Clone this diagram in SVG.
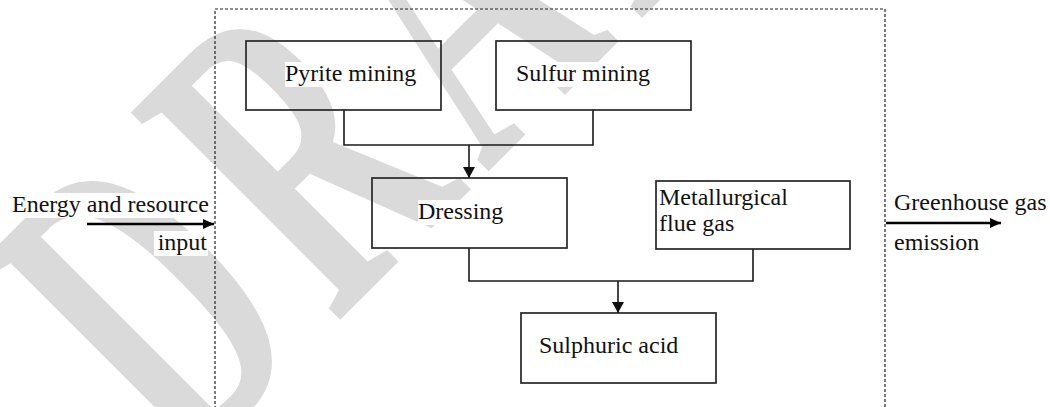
<svg xmlns="http://www.w3.org/2000/svg" width="1050" height="407" viewBox="0 0 1050 407">
  <defs>
    <marker id="head" markerUnits="userSpaceOnUse" markerWidth="12" markerHeight="12" refX="11" refY="6" orient="auto">
      <path d="M0,0 L11,6 L0,12 Z" fill="#111"/>
    </marker>
    <marker id="headIO" markerUnits="userSpaceOnUse" markerWidth="12" markerHeight="10" refX="11" refY="5" orient="auto">
      <path d="M0,0 L11,5 L0,10 Z" fill="#000"/>
    </marker>
  </defs>
  <style>
    .box { fill: none; stroke: #262626; stroke-width: 1.7; }
    .lbl { font-family: 'Liberation Serif', 'Times New Roman', serif; font-size: 24px; fill: #111; }
    .bg { fill: #ffffff; }
    .conn { fill: none; stroke: #1a1a1a; stroke-width: 1.6; }
    .io { fill: none; stroke: #000; stroke-width: 2.6; }
    .frame { fill: none; stroke: #222; stroke-width: 1.2; stroke-dasharray: 3 2; }
    .mark { font-family: 'Liberation Serif', 'Times New Roman', serif; font-size: 450px; font-weight: bold; letter-spacing: 43px; fill: #dadada; }
  </style>

  <rect width="1050" height="407" fill="#ffffff"/>

  <!-- background watermark -->
  <g id="watermark">
    <text class="mark" transform="translate(185,475) rotate(-45) scale(0.58,1)">DRAFT</text>
  </g>

  <!-- system boundary -->
  <rect class="frame" x="215" y="9" width="670" height="430"/>

  <g id="connectors">
    <path class="conn" d="M344,110 V145 H593 V110"/>
    <path class="conn" d="M469,145 V178" marker-end="url(#head)"/>
    <path class="conn" d="M469,248 V281 H753 V249"/>
    <path class="conn" d="M618,281 V313" marker-end="url(#head)"/>
    <path class="io" d="M87,224 H214" marker-end="url(#headIO)"/>
    <path class="io" d="M886,223 H1001" marker-end="url(#headIO)"/>
  </g>

  <g id="pyrite">
    <rect class="box" x="246" y="41" width="195" height="69"/>
    <rect class="bg" x="285" y="62" width="131" height="25"/>
    <text class="lbl" x="285" y="81">Pyrite mining</text>
  </g>

  <g id="sulfur">
    <rect class="box" x="496" y="41" width="195" height="69"/>
    <rect class="bg" x="516" y="62" width="135" height="25"/>
    <text class="lbl" x="516" y="81">Sulfur mining</text>
  </g>

  <g id="dressing">
    <rect class="box" x="372" y="178" width="195" height="70"/>
    <rect class="bg" x="418" y="200" width="86" height="25"/>
    <text class="lbl" x="418" y="219">Dressing</text>
  </g>

  <g id="flue-gas">
    <rect class="box" x="656" y="181" width="194" height="68"/>
    <rect class="bg" x="659" y="186" width="130" height="51"/>
    <text class="lbl" x="659" y="205">Metallurgical</text>
    <text class="lbl" x="659" y="231">flue gas</text>
  </g>

  <g id="sulphuric-acid">
    <rect class="box" x="521" y="313" width="195" height="70"/>
    <rect class="bg" x="539" y="334" width="140" height="25"/>
    <text class="lbl" x="539" y="353">Sulphuric acid</text>
  </g>

  <g id="input">
    <rect class="bg" x="11" y="193" width="198" height="25"/>
    <text class="lbl" x="12" y="212">Energy and resource</text>
    <rect class="bg" x="154" y="231" width="54" height="25"/>
    <text class="lbl" x="207" y="250" text-anchor="end">input</text>
  </g>

  <g id="output">
    <rect class="bg" x="893" y="191" width="148" height="25"/>
    <text class="lbl" x="894" y="210" font-size="23">Greenhouse gas</text>
    <rect class="bg" x="892" y="231" width="88" height="25"/>
    <text class="lbl" x="894" y="250">emission</text>
  </g>
</svg>
